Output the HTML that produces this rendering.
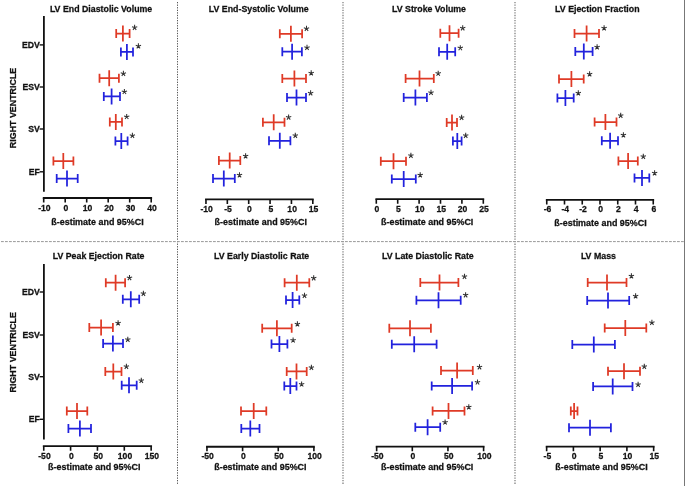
<!DOCTYPE html>
<html><head><meta charset="utf-8"><style>
html,body{margin:0;padding:0;background:#fff;}
body{width:685px;height:486px;overflow:hidden;}
svg{display:block;will-change:transform;}
text{font-family:"Liberation Sans", sans-serif;font-weight:bold;fill:#111;stroke:#111;stroke-width:0.25px;}
.t{font-size:8.8px;}
.x{font-size:8.95px;}
.k{font-size:8.6px;}
.c{font-size:8.7px;}
.rv{font-size:8.9px;}
.s{font-size:11px;font-weight:normal;fill:#333;}
</style></head><body>
<svg width="685" height="486" viewBox="0 0 685 486">
<line x1="177.5" y1="2" x2="177.5" y2="485" stroke="#555" stroke-width="1" stroke-dasharray="1.3 1.27"/>
<line x1="343" y1="2" x2="343" y2="485" stroke="#9a9a9a" stroke-width="1.6" stroke-dasharray="1.3 1.27"/>
<line x1="515" y1="2" x2="515" y2="485" stroke="#9a9a9a" stroke-width="1.6" stroke-dasharray="1.3 1.27"/>
<line x1="1" y1="241.6" x2="684" y2="241.6" stroke="#999" stroke-width="1" stroke-dasharray="2.8 1.2"/>
<rect x="684" y="0" width="1" height="486" fill="#777"/>
<text transform="translate(49.9 12.3) scale(1 1.1)" class="t">LV End Diastolic Volume</text>
<path d="M42.8 198H152.1" stroke="#111" stroke-width="1.8" fill="none"/>
<path d="M43.7 198V202.6M65.2 198V202.6M86.7 198V202.6M108.2 198V202.6M129.7 198V202.6M151.2 198V202.6" stroke="#111" stroke-width="1.6" fill="none"/>
<text transform="translate(44.4 210.6) scale(1 1.08)" class="k" text-anchor="middle">-10</text>
<text transform="translate(65.9 210.6) scale(1 1.08)" class="k" text-anchor="middle">0</text>
<text transform="translate(87.4 210.6) scale(1 1.08)" class="k" text-anchor="middle">10</text>
<text transform="translate(108.9 210.6) scale(1 1.08)" class="k" text-anchor="middle">20</text>
<text transform="translate(130.4 210.6) scale(1 1.08)" class="k" text-anchor="middle">30</text>
<text transform="translate(151.9 210.6) scale(1 1.08)" class="k" text-anchor="middle">40</text>
<text transform="translate(51.3 225) scale(1 1.08)" class="x">ß-estimate and 95%CI</text>
<path d="M43.9 16V191.8" stroke="#111" stroke-width="1.8" fill="none"/>
<path d="M39.6 44.9H43.9" stroke="#111" stroke-width="1.4" fill="none"/>
<text transform="translate(39.8 47.9) scale(1 1.05)" class="c" text-anchor="end">EDV</text>
<path d="M39.6 87H43.9" stroke="#111" stroke-width="1.4" fill="none"/>
<text transform="translate(39.8 90) scale(1 1.05)" class="c" text-anchor="end">ESV</text>
<path d="M39.6 129H43.9" stroke="#111" stroke-width="1.4" fill="none"/>
<text transform="translate(39.8 132) scale(1 1.05)" class="c" text-anchor="end">SV</text>
<path d="M39.6 171.8H43.9" stroke="#111" stroke-width="1.4" fill="none"/>
<text transform="translate(39.8 174.8) scale(1 1.05)" class="c" text-anchor="end">EF</text>
<text transform="translate(16.4 107.95) rotate(-90)" class="rv" text-anchor="middle">RIGHT VENTRICLE</text>
<path d="M116.2 33.6H129.6M116.2 29.1V38.1M129.6 29.1V38.1M122.9 25.6V41.6" stroke="#df3a26" stroke-width="1.75" fill="none"/>
<path d="M120.9 51.9H133M120.9 47.4V56.4M133 47.4V56.4M126.9 43.9V59.9" stroke="#2222dd" stroke-width="1.75" fill="none"/>
<path d="M99.5 78.2H118.9M99.5 73.7V82.7M118.9 73.7V82.7M109.2 70.2V86.2" stroke="#df3a26" stroke-width="1.75" fill="none"/>
<path d="M103.8 96.4H120M103.8 91.9V100.9M120 91.9V100.9M111.6 88.4V104.4" stroke="#2222dd" stroke-width="1.75" fill="none"/>
<path d="M109.8 121.9H122M109.8 117.4V126.4M122 117.4V126.4M115.8 113.9V129.9" stroke="#df3a26" stroke-width="1.75" fill="none"/>
<path d="M115.4 141H127.6M115.4 136.5V145.5M127.6 136.5V145.5M121.3 133V149" stroke="#2222dd" stroke-width="1.75" fill="none"/>
<path d="M53.4 161H73.4M53.4 156.5V165.5M73.4 156.5V165.5M63.3 153V169" stroke="#df3a26" stroke-width="1.75" fill="none"/>
<path d="M56.7 178.6H77.7M56.7 174.1V183.1M77.7 174.1V183.1M67 170.6V186.6" stroke="#2222dd" stroke-width="1.75" fill="none"/>
<text transform="translate(208.8 12.3) scale(1 1.1)" class="t">LV End-Systolic Volume</text>
<path d="M205.06 199.3H313.71" stroke="#111" stroke-width="1.8" fill="none"/>
<path d="M205.96 199.3V203.9M227.33 199.3V203.9M248.7 199.3V203.9M270.07 199.3V203.9M291.44 199.3V203.9M312.81 199.3V203.9" stroke="#111" stroke-width="1.6" fill="none"/>
<text transform="translate(206.66 211.9) scale(1 1.08)" class="k" text-anchor="middle">-10</text>
<text transform="translate(228.03 211.9) scale(1 1.08)" class="k" text-anchor="middle">-5</text>
<text transform="translate(249.4 211.9) scale(1 1.08)" class="k" text-anchor="middle">0</text>
<text transform="translate(270.77 211.9) scale(1 1.08)" class="k" text-anchor="middle">5</text>
<text transform="translate(292.14 211.9) scale(1 1.08)" class="k" text-anchor="middle">10</text>
<text transform="translate(313.51 211.9) scale(1 1.08)" class="k" text-anchor="middle">15</text>
<text transform="translate(214.6 225.2) scale(1 1.08)" class="x">ß-estimate and 95%CI</text>
<path d="M279.8 33.8H302.1M279.8 29.3V38.3M302.1 29.3V38.3M290.9 25.8V41.8" stroke="#df3a26" stroke-width="1.75" fill="none"/>
<path d="M282.3 51.7H301.9M282.3 47.2V56.2M301.9 47.2V56.2M292.1 43.7V59.7" stroke="#2222dd" stroke-width="1.75" fill="none"/>
<path d="M282.3 78.5H306M282.3 74V83M306 74V83M294.4 70.5V86.5" stroke="#df3a26" stroke-width="1.75" fill="none"/>
<path d="M287 97.6H306M287 93.1V102.1M306 93.1V102.1M296.5 89.6V105.6" stroke="#2222dd" stroke-width="1.75" fill="none"/>
<path d="M262.9 122.3H284.5M262.9 117.8V126.8M284.5 117.8V126.8M273.7 114.3V130.3" stroke="#df3a26" stroke-width="1.75" fill="none"/>
<path d="M269 140.8H290.4M269 136.3V145.3M290.4 136.3V145.3M279.8 132.8V148.8" stroke="#2222dd" stroke-width="1.75" fill="none"/>
<path d="M218.9 160.6H240.3M218.9 156.1V165.1M240.3 156.1V165.1M229.7 152.6V168.6" stroke="#df3a26" stroke-width="1.75" fill="none"/>
<path d="M213 178.6H234.8M213 174.1V183.1M234.8 174.1V183.1M223.8 170.6V186.6" stroke="#2222dd" stroke-width="1.75" fill="none"/>
<text transform="translate(392 12.3) scale(1 1.1)" class="t">LV Stroke Volume</text>
<path d="M375.4 199.2H484.2" stroke="#111" stroke-width="1.8" fill="none"/>
<path d="M376.3 199.2V203.8M397.7 199.2V203.8M419.1 199.2V203.8M440.5 199.2V203.8M461.9 199.2V203.8M483.3 199.2V203.8" stroke="#111" stroke-width="1.6" fill="none"/>
<text transform="translate(377 211.8) scale(1 1.08)" class="k" text-anchor="middle">0</text>
<text transform="translate(398.4 211.8) scale(1 1.08)" class="k" text-anchor="middle">5</text>
<text transform="translate(419.8 211.8) scale(1 1.08)" class="k" text-anchor="middle">10</text>
<text transform="translate(441.2 211.8) scale(1 1.08)" class="k" text-anchor="middle">15</text>
<text transform="translate(462.6 211.8) scale(1 1.08)" class="k" text-anchor="middle">20</text>
<text transform="translate(484 211.8) scale(1 1.08)" class="k" text-anchor="middle">25</text>
<text transform="translate(381 225) scale(1 1.08)" class="x">ß-estimate and 95%CI</text>
<path d="M440.3 33.2H458.6M440.3 28.7V37.7M458.6 28.7V37.7M449.5 25.2V41.2" stroke="#df3a26" stroke-width="1.75" fill="none"/>
<path d="M439 51.8H455.2M439 47.3V56.3M455.2 47.3V56.3M447.2 43.8V59.8" stroke="#2222dd" stroke-width="1.75" fill="none"/>
<path d="M405.6 78.5H433.8M405.6 74V83M433.8 74V83M419.5 70.5V86.5" stroke="#df3a26" stroke-width="1.75" fill="none"/>
<path d="M403.7 97.6H426.9M403.7 93.1V102.1M426.9 93.1V102.1M415.4 89.6V105.6" stroke="#2222dd" stroke-width="1.75" fill="none"/>
<path d="M446.7 122.6H457M446.7 118.1V127.1M457 118.1V127.1M452 114.6V130.6" stroke="#df3a26" stroke-width="1.75" fill="none"/>
<path d="M452.9 141H461.6M452.9 136.5V145.5M461.6 136.5V145.5M457.3 133V149" stroke="#2222dd" stroke-width="1.75" fill="none"/>
<path d="M380.8 161.2H406M380.8 156.7V165.7M406 156.7V165.7M393.5 153.2V169.2" stroke="#df3a26" stroke-width="1.75" fill="none"/>
<path d="M391.8 179H415.8M391.8 174.5V183.5M415.8 174.5V183.5M403.7 171V187" stroke="#2222dd" stroke-width="1.75" fill="none"/>
<text transform="translate(555.1 12.3) scale(1 1.1)" class="t">LV Ejection Fraction</text>
<path d="M545.85 199.85H654.15" stroke="#111" stroke-width="1.8" fill="none"/>
<path d="M546.75 199.85V204.45M564.5 199.85V204.45M582.25 199.85V204.45M600 199.85V204.45M617.75 199.85V204.45M635.5 199.85V204.45M653.25 199.85V204.45" stroke="#111" stroke-width="1.6" fill="none"/>
<text transform="translate(547.45 212.45) scale(1 1.08)" class="k" text-anchor="middle">-6</text>
<text transform="translate(565.2 212.45) scale(1 1.08)" class="k" text-anchor="middle">-4</text>
<text transform="translate(582.95 212.45) scale(1 1.08)" class="k" text-anchor="middle">-2</text>
<text transform="translate(600.7 212.45) scale(1 1.08)" class="k" text-anchor="middle">0</text>
<text transform="translate(618.45 212.45) scale(1 1.08)" class="k" text-anchor="middle">2</text>
<text transform="translate(636.2 212.45) scale(1 1.08)" class="k" text-anchor="middle">4</text>
<text transform="translate(653.95 212.45) scale(1 1.08)" class="k" text-anchor="middle">6</text>
<text transform="translate(554.3 225.9) scale(1 1.08)" class="x">ß-estimate and 95%CI</text>
<path d="M574.5 33.5H599M574.5 29V38M599 29V38M586.6 25.5V41.5" stroke="#df3a26" stroke-width="1.75" fill="none"/>
<path d="M575.3 51.5H592.6M575.3 47V56M592.6 47V56M583.8 43.5V59.5" stroke="#2222dd" stroke-width="1.75" fill="none"/>
<path d="M559 79H583.7M559 74.5V83.5M583.7 74.5V83.5M571.4 71V87" stroke="#df3a26" stroke-width="1.75" fill="none"/>
<path d="M557.4 98H573.7M557.4 93.5V102.5M573.7 93.5V102.5M565.4 90V106" stroke="#2222dd" stroke-width="1.75" fill="none"/>
<path d="M594.6 122H616.5M594.6 117.5V126.5M616.5 117.5V126.5M605.4 114V130" stroke="#df3a26" stroke-width="1.75" fill="none"/>
<path d="M601.8 140.8H618M601.8 136.3V145.3M618 136.3V145.3M610.1 132.8V148.8" stroke="#2222dd" stroke-width="1.75" fill="none"/>
<path d="M618.4 161H637.8M618.4 156.5V165.5M637.8 156.5V165.5M628.1 153V169" stroke="#df3a26" stroke-width="1.75" fill="none"/>
<path d="M634.5 177.9H649.3M634.5 173.4V182.4M649.3 173.4V182.4M642 169.9V185.9" stroke="#2222dd" stroke-width="1.75" fill="none"/>
<text transform="translate(52.7 259.4) scale(1 1.1)" class="t">LV Peak Ejection Rate</text>
<path d="M42.85 446.2H152.05" stroke="#111" stroke-width="1.8" fill="none"/>
<path d="M43.75 446.2V450.8M70.6 446.2V450.8M97.45 446.2V450.8M124.3 446.2V450.8M151.15 446.2V450.8" stroke="#111" stroke-width="1.6" fill="none"/>
<text transform="translate(44.45 458.8) scale(1 1.08)" class="k" text-anchor="middle">-50</text>
<text transform="translate(71.3 458.8) scale(1 1.08)" class="k" text-anchor="middle">0</text>
<text transform="translate(98.15 458.8) scale(1 1.08)" class="k" text-anchor="middle">50</text>
<text transform="translate(125 458.8) scale(1 1.08)" class="k" text-anchor="middle">100</text>
<text transform="translate(151.85 458.8) scale(1 1.08)" class="k" text-anchor="middle">150</text>
<text transform="translate(48.1 470.1) scale(1 1.08)" class="x">ß-estimate and 95%CI</text>
<path d="M43.9 264.1V439.4" stroke="#111" stroke-width="1.8" fill="none"/>
<path d="M39.6 292H43.9" stroke="#111" stroke-width="1.4" fill="none"/>
<text transform="translate(39.8 295) scale(1 1.05)" class="c" text-anchor="end">EDV</text>
<path d="M39.6 335H43.9" stroke="#111" stroke-width="1.4" fill="none"/>
<text transform="translate(39.8 338) scale(1 1.05)" class="c" text-anchor="end">ESV</text>
<path d="M39.6 376.7H43.9" stroke="#111" stroke-width="1.4" fill="none"/>
<text transform="translate(39.8 379.7) scale(1 1.05)" class="c" text-anchor="end">SV</text>
<path d="M39.6 419.3H43.9" stroke="#111" stroke-width="1.4" fill="none"/>
<text transform="translate(39.8 422.3) scale(1 1.05)" class="c" text-anchor="end">EF</text>
<text transform="translate(16.4 352.25) rotate(-90)" class="rv" text-anchor="middle">RIGHT VENTRICLE</text>
<path d="M105.8 282.7H125.1M105.8 278.2V287.2M125.1 278.2V287.2M115.6 274.7V290.7" stroke="#df3a26" stroke-width="1.75" fill="none"/>
<path d="M122.8 299.3H139.2M122.8 294.8V303.8M139.2 294.8V303.8M130.8 291.3V307.3" stroke="#2222dd" stroke-width="1.75" fill="none"/>
<path d="M89.3 327.6H112.9M89.3 323.1V332.1M112.9 323.1V332.1M101.1 319.6V335.6" stroke="#df3a26" stroke-width="1.75" fill="none"/>
<path d="M103.1 343.5H123M103.1 339V348M123 339V348M112.9 335.5V351.5" stroke="#2222dd" stroke-width="1.75" fill="none"/>
<path d="M105.3 371.6H121.5M105.3 367.1V376.1M121.5 367.1V376.1M113.3 363.6V379.6" stroke="#df3a26" stroke-width="1.75" fill="none"/>
<path d="M121.7 385.3H136.7M121.7 380.8V389.8M136.7 380.8V389.8M129 377.3V393.3" stroke="#2222dd" stroke-width="1.75" fill="none"/>
<path d="M66.8 411.1H87.3M66.8 406.6V415.6M87.3 406.6V415.6M77 403.1V419.1" stroke="#df3a26" stroke-width="1.75" fill="none"/>
<path d="M68.4 428.6H91M68.4 424.1V433.1M91 424.1V433.1M79.9 420.6V436.6" stroke="#2222dd" stroke-width="1.75" fill="none"/>
<text transform="translate(214 259.4) scale(1 1.1)" class="t">LV Early Diastolic Rate</text>
<path d="M206.05 446.75H314.8" stroke="#111" stroke-width="1.8" fill="none"/>
<path d="M206.95 446.75V451.35M242.6 446.75V451.35M278.25 446.75V451.35M313.9 446.75V451.35" stroke="#111" stroke-width="1.6" fill="none"/>
<text transform="translate(207.65 459.35) scale(1 1.08)" class="k" text-anchor="middle">-50</text>
<text transform="translate(243.3 459.35) scale(1 1.08)" class="k" text-anchor="middle">0</text>
<text transform="translate(278.95 459.35) scale(1 1.08)" class="k" text-anchor="middle">50</text>
<text transform="translate(314.6 459.35) scale(1 1.08)" class="k" text-anchor="middle">100</text>
<text transform="translate(214.2 470.3) scale(1 1.08)" class="x">ß-estimate and 95%CI</text>
<path d="M284.6 282.7H309.3M284.6 278.2V287.2M309.3 278.2V287.2M296.8 274.7V290.7" stroke="#df3a26" stroke-width="1.75" fill="none"/>
<path d="M286 300H299.3M286 295.5V304.5M299.3 295.5V304.5M292.6 292V308" stroke="#2222dd" stroke-width="1.75" fill="none"/>
<path d="M262.2 328.3H291.7M262.2 323.8V332.8M291.7 323.8V332.8M276.9 320.3V336.3" stroke="#df3a26" stroke-width="1.75" fill="none"/>
<path d="M271.5 344H287.4M271.5 339.5V348.5M287.4 339.5V348.5M279.4 336V352" stroke="#2222dd" stroke-width="1.75" fill="none"/>
<path d="M286.7 371.4H306.7M286.7 366.9V375.9M306.7 366.9V375.9M296.5 363.4V379.4" stroke="#df3a26" stroke-width="1.75" fill="none"/>
<path d="M284.3 386H296.5M284.3 381.5V390.5M296.5 381.5V390.5M290.3 378V394" stroke="#2222dd" stroke-width="1.75" fill="none"/>
<path d="M241 411.1H266.3M241 406.6V415.6M266.3 406.6V415.6M253.7 403.1V419.1" stroke="#df3a26" stroke-width="1.75" fill="none"/>
<path d="M241.3 428.6H259.5M241.3 424.1V433.1M259.5 424.1V433.1M250.3 420.6V436.6" stroke="#2222dd" stroke-width="1.75" fill="none"/>
<text transform="translate(382 259.4) scale(1 1.1)" class="t">LV Late Diastolic Rate</text>
<path d="M375.75 446.6H484.5" stroke="#111" stroke-width="1.8" fill="none"/>
<path d="M376.65 446.6V451.2M412.3 446.6V451.2M447.95 446.6V451.2M483.6 446.6V451.2" stroke="#111" stroke-width="1.6" fill="none"/>
<text transform="translate(377.35 459.2) scale(1 1.08)" class="k" text-anchor="middle">-50</text>
<text transform="translate(413 459.2) scale(1 1.08)" class="k" text-anchor="middle">0</text>
<text transform="translate(448.65 459.2) scale(1 1.08)" class="k" text-anchor="middle">50</text>
<text transform="translate(484.3 459.2) scale(1 1.08)" class="k" text-anchor="middle">100</text>
<text transform="translate(381 469.9) scale(1 1.08)" class="x">ß-estimate and 95%CI</text>
<path d="M420.3 282.5H458.4M420.3 278V287M458.4 278V287M439.5 274.5V290.5" stroke="#df3a26" stroke-width="1.75" fill="none"/>
<path d="M416.4 300.3H460.7M416.4 295.8V304.8M460.7 295.8V304.8M438.5 292.3V308.3" stroke="#2222dd" stroke-width="1.75" fill="none"/>
<path d="M389.3 328.3H430.9M389.3 323.8V332.8M430.9 323.8V332.8M410 320.3V336.3" stroke="#df3a26" stroke-width="1.75" fill="none"/>
<path d="M391.8 344.3H436.6M391.8 339.8V348.8M436.6 339.8V348.8M414.2 336.3V352.3" stroke="#2222dd" stroke-width="1.75" fill="none"/>
<path d="M441 370.5H472.8M441 366V375M472.8 366V375M457.1 362.5V378.5" stroke="#df3a26" stroke-width="1.75" fill="none"/>
<path d="M431.7 385.9H472.1M431.7 381.4V390.4M472.1 381.4V390.4M452.1 377.9V393.9" stroke="#2222dd" stroke-width="1.75" fill="none"/>
<path d="M432.6 410.9H464.5M432.6 406.4V415.4M464.5 406.4V415.4M448.5 402.9V418.9" stroke="#df3a26" stroke-width="1.75" fill="none"/>
<path d="M415.3 427.2H440.2M415.3 422.7V431.7M440.2 422.7V431.7M427.6 419.2V435.2" stroke="#2222dd" stroke-width="1.75" fill="none"/>
<text transform="translate(580.9 259.4) scale(1 1.1)" class="t">LV Mass</text>
<path d="M545.75 446.6H654.55" stroke="#111" stroke-width="1.8" fill="none"/>
<path d="M546.65 446.6V451.2M573.4 446.6V451.2M600.15 446.6V451.2M626.9 446.6V451.2M653.65 446.6V451.2" stroke="#111" stroke-width="1.6" fill="none"/>
<text transform="translate(547.35 459.2) scale(1 1.08)" class="k" text-anchor="middle">-5</text>
<text transform="translate(574.1 459.2) scale(1 1.08)" class="k" text-anchor="middle">0</text>
<text transform="translate(600.85 459.2) scale(1 1.08)" class="k" text-anchor="middle">5</text>
<text transform="translate(627.6 459.2) scale(1 1.08)" class="k" text-anchor="middle">10</text>
<text transform="translate(654.35 459.2) scale(1 1.08)" class="k" text-anchor="middle">15</text>
<text transform="translate(555.3 470.1) scale(1 1.08)" class="x">ß-estimate and 95%CI</text>
<path d="M587.7 282.5H626.5M587.7 278V287M626.5 278V287M607 274.5V290.5" stroke="#df3a26" stroke-width="1.75" fill="none"/>
<path d="M587.2 300.5H629.2M587.2 296V305M629.2 296V305M608 292.5V308.5" stroke="#2222dd" stroke-width="1.75" fill="none"/>
<path d="M604.7 328H646.3M604.7 323.5V332.5M646.3 323.5V332.5M625.3 320V336" stroke="#df3a26" stroke-width="1.75" fill="none"/>
<path d="M572.3 344.6H614.9M572.3 340.1V349.1M614.9 340.1V349.1M593.8 336.6V352.6" stroke="#2222dd" stroke-width="1.75" fill="none"/>
<path d="M608 371.2H640M608 366.7V375.7M640 366.7V375.7M624 363.2V379.2" stroke="#df3a26" stroke-width="1.75" fill="none"/>
<path d="M593.1 386.4H632.5M593.1 381.9V390.9M632.5 381.9V390.9M612.7 378.4V394.4" stroke="#2222dd" stroke-width="1.75" fill="none"/>
<path d="M570.8 411H577.5M570.8 406.5V415.5M577.5 406.5V415.5M574.1 403V419" stroke="#df3a26" stroke-width="1.75" fill="none"/>
<path d="M569 427.7H610.9M569 423.2V432.2M610.9 423.2V432.2M590 419.7V435.7" stroke="#2222dd" stroke-width="1.75" fill="none"/>
<path d="M134.60 27.57L134.60 24.77M134.60 27.57L137.26 26.70M134.60 27.57L136.25 29.83M134.60 27.57L132.95 29.83M134.60 27.57L131.94 26.70M138.40 46.17L138.40 43.37M138.40 46.17L141.06 45.30M138.40 46.17L140.05 48.43M138.40 46.17L136.75 48.43M138.40 46.17L135.74 45.30M123.40 73.67L123.40 70.87M123.40 73.67L126.06 72.80M123.40 73.67L125.05 75.93M123.40 73.67L121.75 75.93M123.40 73.67L120.74 72.80M124.40 91.77L124.40 88.97M124.40 91.77L127.06 90.90M124.40 91.77L126.05 94.03M124.40 91.77L122.75 94.03M124.40 91.77L121.74 90.90M126.70 116.77L126.70 113.97M126.70 116.77L129.36 115.90M126.70 116.77L128.35 119.03M126.70 116.77L125.05 119.03M126.70 116.77L124.04 115.90M132.40 135.67L132.40 132.87M132.40 135.67L135.06 134.80M132.40 135.67L134.05 137.93M132.40 135.67L130.75 137.93M132.40 135.67L129.74 134.80M306.50 28.67L306.50 25.87M306.50 28.67L309.16 27.80M306.50 28.67L308.15 30.93M306.50 28.67L304.85 30.93M306.50 28.67L303.84 27.80M307.00 47.67L307.00 44.87M307.00 47.67L309.66 46.80M307.00 47.67L308.65 49.93M307.00 47.67L305.35 49.93M307.00 47.67L304.34 46.80M311.20 73.17L311.20 70.37M311.20 73.17L313.86 72.30M311.20 73.17L312.85 75.43M311.20 73.17L309.55 75.43M311.20 73.17L308.54 72.30M310.60 93.17L310.60 90.37M310.60 93.17L313.26 92.30M310.60 93.17L312.25 95.43M310.60 93.17L308.95 95.43M310.60 93.17L307.94 92.30M288.60 117.37L288.60 114.57M288.60 117.37L291.26 116.50M288.60 117.37L290.25 119.63M288.60 117.37L286.95 119.63M288.60 117.37L285.94 116.50M295.30 135.57L295.30 132.77M295.30 135.57L297.96 134.70M295.30 135.57L296.95 137.83M295.30 135.57L293.65 137.83M295.30 135.57L292.64 134.70M245.60 156.07L245.60 153.27M245.60 156.07L248.26 155.20M245.60 156.07L247.25 158.33M245.60 156.07L243.95 158.33M245.60 156.07L242.94 155.20M239.50 175.07L239.50 172.27M239.50 175.07L242.16 174.20M239.50 175.07L241.15 177.33M239.50 175.07L237.85 177.33M239.50 175.07L236.84 174.20M462.70 28.17L462.70 25.37M462.70 28.17L465.36 27.30M462.70 28.17L464.35 30.43M462.70 28.17L461.05 30.43M462.70 28.17L460.04 27.30M460.30 47.97L460.30 45.17M460.30 47.97L462.96 47.10M460.30 47.97L461.95 50.23M460.30 47.97L458.65 50.23M460.30 47.97L457.64 47.10M438.20 73.47L438.20 70.67M438.20 73.47L440.86 72.60M438.20 73.47L439.85 75.73M438.20 73.47L436.55 75.73M438.20 73.47L435.54 72.60M431.00 92.67L431.00 89.87M431.00 92.67L433.66 91.80M431.00 92.67L432.65 94.93M431.00 92.67L429.35 94.93M431.00 92.67L428.34 91.80M461.60 117.57L461.60 114.77M461.60 117.57L464.26 116.70M461.60 117.57L463.25 119.83M461.60 117.57L459.95 119.83M461.60 117.57L458.94 116.70M465.70 135.57L465.70 132.77M465.70 135.57L468.36 134.70M465.70 135.57L467.35 137.83M465.70 135.57L464.05 137.83M465.70 135.57L463.04 134.70M410.90 155.57L410.90 152.77M410.90 155.57L413.56 154.70M410.90 155.57L412.55 157.83M410.90 155.57L409.25 157.83M410.90 155.57L408.24 154.70M420.20 175.07L420.20 172.27M420.20 175.07L422.86 174.20M420.20 175.07L421.85 177.33M420.20 175.07L418.55 177.33M420.20 175.07L417.54 174.20M604.10 28.17L604.10 25.37M604.10 28.17L606.76 27.30M604.10 28.17L605.75 30.43M604.10 28.17L602.45 30.43M604.10 28.17L601.44 27.30M597.10 47.17L597.10 44.37M597.10 47.17L599.76 46.30M597.10 47.17L598.75 49.43M597.10 47.17L595.45 49.43M597.10 47.17L594.44 46.30M589.60 74.17L589.60 71.37M589.60 74.17L592.26 73.30M589.60 74.17L591.25 76.43M589.60 74.17L587.95 76.43M589.60 74.17L586.94 73.30M578.30 93.17L578.30 90.37M578.30 93.17L580.96 92.30M578.30 93.17L579.95 95.43M578.30 93.17L576.65 95.43M578.30 93.17L575.64 92.30M620.70 115.57L620.70 112.77M620.70 115.57L623.36 114.70M620.70 115.57L622.35 117.83M620.70 115.57L619.05 117.83M620.70 115.57L618.04 114.70M623.40 135.07L623.40 132.27M623.40 135.07L626.06 134.20M623.40 135.07L625.05 137.33M623.40 135.07L621.75 137.33M623.40 135.07L620.74 134.20M643.30 156.57L643.30 153.77M643.30 156.57L645.96 155.70M643.30 156.57L644.95 158.83M643.30 156.57L641.65 158.83M643.30 156.57L640.64 155.70M654.60 173.07L654.60 170.27M654.60 173.07L657.26 172.20M654.60 173.07L656.25 175.33M654.60 173.07L652.95 175.33M654.60 173.07L651.94 172.20M129.50 277.87L129.50 275.07M129.50 277.87L132.16 277.00M129.50 277.87L131.15 280.13M129.50 277.87L127.85 280.13M129.50 277.87L126.84 277.00M143.40 293.57L143.40 290.77M143.40 293.57L146.06 292.70M143.40 293.57L145.05 295.83M143.40 293.57L141.75 295.83M143.40 293.57L140.74 292.70M118.10 323.17L118.10 320.37M118.10 323.17L120.76 322.30M118.10 323.17L119.75 325.43M118.10 323.17L116.45 325.43M118.10 323.17L115.44 322.30M127.80 339.57L127.80 336.77M127.80 339.57L130.46 338.70M127.80 339.57L129.45 341.83M127.80 339.57L126.15 341.83M127.80 339.57L125.14 338.70M126.40 366.57L126.40 363.77M126.40 366.57L129.06 365.70M126.40 366.57L128.05 368.83M126.40 366.57L124.75 368.83M126.40 366.57L123.74 365.70M141.30 380.57L141.30 377.77M141.30 380.57L143.96 379.70M141.30 380.57L142.95 382.83M141.30 380.57L139.65 382.83M141.30 380.57L138.64 379.70M313.70 278.17L313.70 275.37M313.70 278.17L316.36 277.30M313.70 278.17L315.35 280.43M313.70 278.17L312.05 280.43M313.70 278.17L311.04 277.30M304.50 295.57L304.50 292.77M304.50 295.57L307.16 294.70M304.50 295.57L306.15 297.83M304.50 295.57L302.85 297.83M304.50 295.57L301.84 294.70M297.40 324.17L297.40 321.37M297.40 324.17L300.06 323.30M297.40 324.17L299.05 326.43M297.40 324.17L295.75 326.43M297.40 324.17L294.74 323.30M293.10 340.27L293.10 337.47M293.10 340.27L295.76 339.40M293.10 340.27L294.75 342.53M293.10 340.27L291.45 342.53M293.10 340.27L290.44 339.40M311.40 367.57L311.40 364.77M311.40 367.57L314.06 366.70M311.40 367.57L313.05 369.83M311.40 367.57L309.75 369.83M311.40 367.57L308.74 366.70M301.60 384.27L301.60 381.47M301.60 384.27L304.26 383.40M301.60 384.27L303.25 386.53M301.60 384.27L299.95 386.53M301.60 384.27L298.94 383.40M464.50 276.57L464.50 273.77M464.50 276.57L467.16 275.70M464.50 276.57L466.15 278.83M464.50 276.57L462.85 278.83M464.50 276.57L461.84 275.70M465.60 295.07L465.60 292.27M465.60 295.07L468.26 294.20M465.60 295.07L467.25 297.33M465.60 295.07L463.95 297.33M465.60 295.07L462.94 294.20M479.50 367.07L479.50 364.27M479.50 367.07L482.16 366.20M479.50 367.07L481.15 369.33M479.50 367.07L477.85 369.33M479.50 367.07L476.84 366.20M477.50 382.27L477.50 379.47M477.50 382.27L480.16 381.40M477.50 382.27L479.15 384.53M477.50 382.27L475.85 384.53M477.50 382.27L474.84 381.40M468.80 407.07L468.80 404.27M468.80 407.07L471.46 406.20M468.80 407.07L470.45 409.33M468.80 407.07L467.15 409.33M468.80 407.07L466.14 406.20M445.10 422.27L445.10 419.47M445.10 422.27L447.76 421.40M445.10 422.27L446.75 424.53M445.10 422.27L443.45 424.53M445.10 422.27L442.44 421.40M631.40 276.07L631.40 273.27M631.40 276.07L634.06 275.20M631.40 276.07L633.05 278.33M631.40 276.07L629.75 278.33M631.40 276.07L628.74 275.20M635.60 296.17L635.60 293.37M635.60 296.17L638.26 295.30M635.60 296.17L637.25 298.43M635.60 296.17L633.95 298.43M635.60 296.17L632.94 295.30M651.90 322.67L651.90 319.87M651.90 322.67L654.56 321.80M651.90 322.67L653.55 324.93M651.90 322.67L650.25 324.93M651.90 322.67L649.24 321.80M644.30 366.57L644.30 363.77M644.30 366.57L646.96 365.70M644.30 366.57L645.95 368.83M644.30 366.57L642.65 368.83M644.30 366.57L641.64 365.70M638.10 384.57L638.10 381.77M638.10 384.57L640.76 383.70M638.10 384.57L639.75 386.83M638.10 384.57L636.45 386.83M638.10 384.57L635.44 383.70" stroke="#333" stroke-width="1.05" fill="none"/>
</svg>
</body></html>
